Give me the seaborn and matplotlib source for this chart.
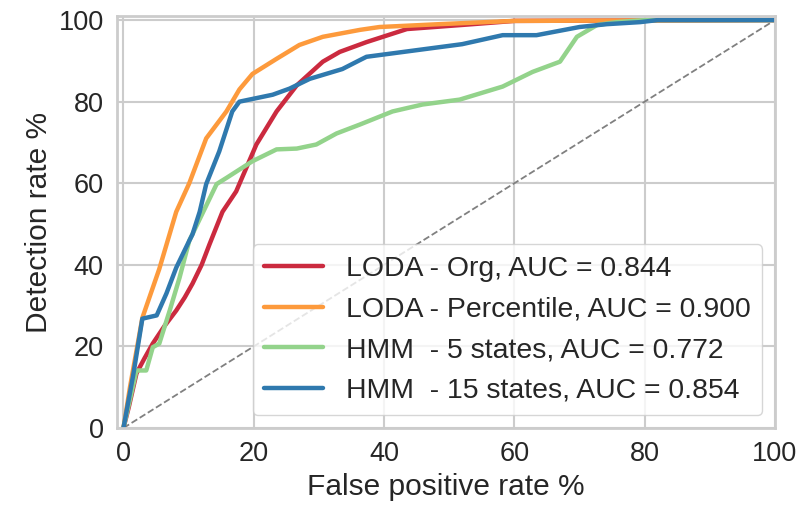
import numpy as np
import pandas as pd
import matplotlib
matplotlib.use("Agg")
import matplotlib.pyplot as plt
import seaborn as sns

# ---- data ----
labels = ["LODA - Org, AUC = 0.844",
          "LODA - Percentile, AUC = 0.900",
          "HMM  - 5 states, AUC = 0.772",
          "HMM  - 15 states, AUC = 0.854"]

org_fpr = [0, 0.8, 2.0, 3.2, 4.5, 6.3, 8.1, 9.4, 10.6, 12.0, 13.2, 15.2, 17.3, 20.4, 23.5, 26.6, 30.6, 33.2, 37.3, 43.5, 53.6, 60, 100]
org_tpr = [0, 5, 13.4, 17.0, 20.7, 25.0, 28.8, 32.0, 35.4, 40.0, 45, 53, 58, 69.5, 77.6, 84, 89.8, 92.2, 94.6, 97.8, 99.0, 99.8, 100]

pct_fpr = [0, 1.0, 2.9, 5.5, 8.1, 10.1, 12.7, 15.8, 17.8, 19.8, 23.5, 27.0, 30.6, 36.3, 39.3, 48.5, 60, 100]
pct_tpr = [0, 10, 27, 39, 53, 60, 71, 77.6, 83.0, 86.8, 90.5, 93.9, 95.9, 97.6, 98.3, 99.0, 99.8, 100]

h5_fpr = [0, 1.0, 2.0, 3.5, 4.5, 5.5, 7.1, 8.6, 10.1, 12.7, 14.3, 15.8, 19.8, 23.5, 26.6, 29.6, 32.7, 36.3, 41.3, 45.9, 51.6, 58.2, 62.8, 67.0, 69.6, 72.7, 75.7, 80, 100]
h5_tpr = [0, 7, 14.1, 14.1, 19.8, 20.7, 28.8, 36.8, 45.9, 54.5, 59.8, 61.3, 65.4, 68.3, 68.5, 69.5, 72.2, 74.4, 77.6, 79.3, 80.5, 83.7, 87.3, 89.8, 95.9, 98.8, 99.5, 100, 100]

h15_fpr = [0, 1.5, 2.9, 5.1, 6.6, 8.1, 10.1, 10.6, 11.7, 12.7, 14.7, 16.7, 17.8, 22.9, 25.5, 28.6, 33.6, 36.3, 37.3, 52.0, 58.2, 63.4, 70.0, 74.2, 79.3, 82, 100]
h15_tpr = [0, 13, 26.8, 27.6, 33, 39.3, 45.9, 47.5, 53, 59.8, 67.8, 77.6, 80, 81.7, 83.2, 85.6, 88, 90.2, 91, 94.1, 96.3, 96.3, 98.3, 99, 99.5, 100, 100]

colors = ["#cb2a3f", "#fd9a3c", "#93d38b", "#2f79ae"]

series = [(org_fpr, org_tpr), (pct_fpr, pct_tpr), (h5_fpr, h5_tpr), (h15_fpr, h15_tpr)]
frames = []
for lab, (fx, fy) in zip(labels, series):
    frames.append(pd.DataFrame({"fpr": fx, "tpr": fy, "model": lab}))
df = pd.concat(frames, ignore_index=True)

sns.set_theme(style="whitegrid")
plt.rcParams["font.family"] = ["Liberation Sans", "DejaVu Sans"]

fig = plt.figure(figsize=(8.01, 5.08), dpi=100)
ax = fig.add_axes([0.146, 0.1575, 0.8215, 0.811])

sns.lineplot(data=df, x="fpr", y="tpr", hue="model", hue_order=labels,
             palette=colors, sort=False, estimator=None, units="model",
             linewidth=3.2, ax=ax, legend=True)
ax.plot([0, 100], [0, 100], linestyle="--", color="gray", linewidth=1.3, zorder=1)

ax.set_xlim(-1, 100)
ax.set_ylim(0, 101)
ax.set_xticks([0, 20, 40, 60, 80, 100])
ax.set_yticks([0, 20, 40, 60, 80, 100])
ax.tick_params(labelsize=19.5, colors=".15")
ax.set_xlabel("False positive rate %", fontsize=21.5, color=".15")
ax.set_ylabel("Detection rate %", fontsize=21.5, color=".15")
for s in ax.spines.values():
    s.set_color(".8")
    s.set_linewidth(2)
ax.grid(True, color=".8", linewidth=1.5)

leg = ax.legend(loc="lower right", fontsize=20.4, frameon=True, handlelength=2.1,
                borderpad=0.4, labelspacing=0.52, borderaxespad=0.45)
for line in leg.get_lines():
    line.set_linewidth(3.2)
leg.get_frame().set_edgecolor(".8")

fig.savefig("out.png", dpi=100)
